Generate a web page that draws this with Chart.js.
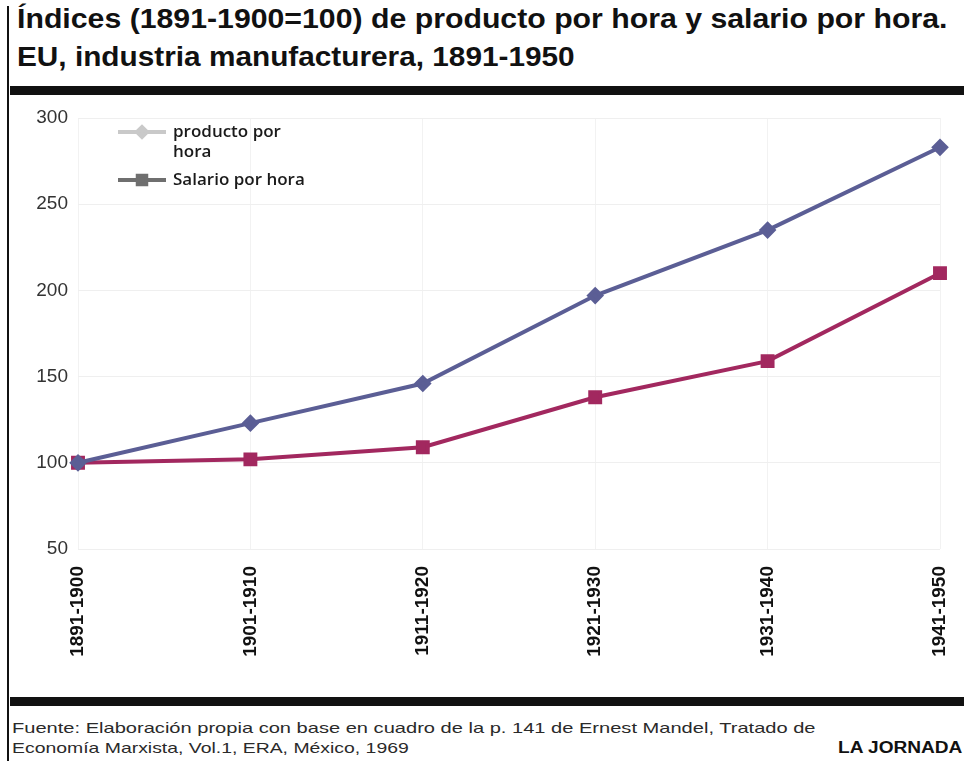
<!DOCTYPE html>
<html>
<head>
<meta charset="utf-8">
<script src="https://cdn.jsdelivr.net/npm/chart.js@4.4.0/dist/chart.umd.min.js"></script>
<style>
  body { margin: 0; background: #fff; width: 964px; height: 761px; overflow: hidden; position: relative; font-family: "Liberation Sans", Arial, sans-serif; }
  #vline { position: absolute; left: 7px; top: 6px; width: 2px; height: 755px; background: #111; }
  .title { position: absolute; left: 17px; font-weight: bold; font-size: 27px; color: #111; white-space: nowrap; font-family: "Liberation Sans Narrow", "Liberation Sans", Arial, sans-serif; transform-origin: 0 0; }
  .bar { position: absolute; left: 10px; width: 954px; height: 9px; background: #111; }
  #chartBox { position: absolute; left: 10px; top: 100px; width: 954px; height: 595px; }
  .foot { position: absolute; left: 12px; font-size: 15px; color: #2a2a2a; white-space: nowrap; transform-origin: 0 0; }
  #brand { position: absolute; left: 838px; top: 739px; font-size: 16px; font-weight: bold; color: #111; white-space: nowrap; transform-origin: 0 0; }
</style>
</head>
<body>
<div id="vline"></div>
<div class="title" id="t1" style="top:4px">Índices (1891-1900=100) de producto por hora y salario por hora.</div>
<div class="title" id="t2" style="top:42px">EU, industria manufacturera, 1891-1950</div>
<div class="bar" style="top:86px"></div>
<div id="chartBox"><canvas id="myChart" width="954" height="595"></canvas></div>
<div class="bar" style="top:697px"></div>
<div class="foot" id="f1" style="top:719px">Fuente: Elaboración propia con base en cuadro de la p. 141 de Ernest Mandel, Tratado de</div>
<div class="foot" id="f2" style="top:739px">Economía Marxista, Vol.1, ERA, México, 1969</div>
<div id="brand">LA JORNADA</div>
<script>
const categories = ["1891-1900", "1901-1910", "1911-1920", "1921-1930", "1931-1940", "1941-1950"];
const productoPorHora = [100, 123, 146, 197, 235, 283];
const salarioPorHora = [100, 102, 109, 138, 159, 210];
const yTicks = [50, 100, 150, 200, 250, 300];

// squeeze the text blocks to the widths in the picture
const fit = (id, w) => {
  const el = document.getElementById(id);
  el.style.transform = "scaleX(" + (w / el.offsetWidth) + ")";
};
fit("t1", 931);
fit("t2", 558);
fit("f1", 803);
fit("f2", 397);
fit("brand", 124);

// legend drawn inside the plot area, line + marker like the original
const legendInside = {
  id: "legendInside",
  afterDraw(chart) {
    const c = chart.ctx;
    const items = [
      { text: ["producto por", "hora"], color: "#c9c9c9", style: "rectRot", r: 5, y: 32 },
      { text: ["Salario por hora"], color: "#6f6f6f", style: "rect", r: 6, y: 80 },
    ];
    c.save();
    items.forEach((it) => {
      c.strokeStyle = it.color;
      c.lineWidth = 4;
      c.beginPath();
      c.moveTo(108, it.y);
      c.lineTo(156, it.y);
      c.stroke();
      c.fillStyle = it.color;
      Chart.helpers.drawPoint(c, { pointStyle: it.style, radius: it.r, rotation: 0, borderWidth: 1 }, 132, it.y);
      c.fillStyle = "#1a1a1a";
      c.font = "600 17px 'Open Sans', sans-serif";
      c.textBaseline = "middle";
      it.text.forEach((t, i) => c.fillText(t, 163, it.y + i * 20));
    });
    c.restore();
  },
};

const ctx = document.getElementById("myChart");

new Chart(ctx, {
  type: "line",
  data: {
    labels: categories,
    datasets: [
      {
        label: "producto por hora",
        data: productoPorHora,
        borderColor: "#5b5e95",
        backgroundColor: "#5b5e95",
        borderWidth: 4,
        pointStyle: "rectRot",
        pointRadius: 6,
        tension: 0,
      },
      {
        label: "Salario por hora",
        data: salarioPorHora,
        borderColor: "#a2285f",
        backgroundColor: "#a2285f",
        borderWidth: 4,
        pointStyle: "rect",
        pointRadius: 7,
        tension: 0,
      },
    ],
  },
  options: {
    responsive: false,
    animation: false,
    devicePixelRatio: 1,
    layout: { padding: { top: 18, right: 24, left: 0, bottom: 0 } },
    plugins: {
      legend: { display: false },
      tooltip: { enabled: false },
    },
    scales: {
      x: {
        offset: false,
        grid: { color: "#f2f2f2", drawTicks: false },
        border: { display: false },
        ticks: {
          minRotation: 90,
          maxRotation: 90,
          padding: 17,
          color: "#111",
          font: { family: "'Liberation Sans', Arial, sans-serif", size: 19, weight: "bold" },
        },
        afterFit: (s) => { s.height = 146; s.paddingLeft = 0; s.paddingRight = 0; },
      },
      y: {
        min: 50,
        max: 300,
        afterBuildTicks: (s) => { s.ticks = yTicks.map((v) => ({ value: v })); },
        grid: { color: "#efefef", drawTicks: false },
        border: { display: false },
        ticks: {
          padding: 10,
          color: "#333",
          font: { family: "'Liberation Sans', Arial, sans-serif", size: 19 },
        },
        afterFit: (s) => { s.width = 68; s.paddingTop = 0; s.paddingBottom = 0; },
      },
    },
  },
  plugins: [legendInside],
});
</script>
</body>
</html>
